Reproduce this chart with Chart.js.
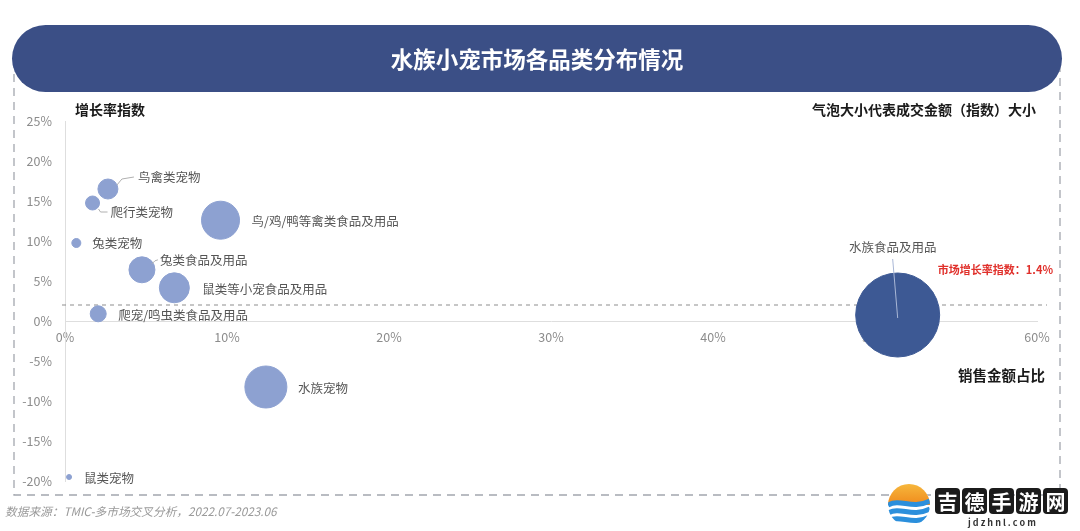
<!DOCTYPE html>
<html>
<head>
<meta charset="utf-8">
<script src="https://cdn.jsdelivr.net/npm/chart.js@4.4.1/dist/chart.umd.min.js"></script>
<style>
html,body{margin:0;padding:0;background:#ffffff;}
#wrap{position:relative;width:1080px;height:531px;overflow:hidden;}
canvas{display:block;}
</style>
</head>
<body>
<div id="wrap"><canvas id="c" width="1080" height="531"></canvas></div>
<script>
// ---------- data ----------
const categories = [
  '鸟禽类宠物',
  '爬行类宠物',
  '鸟/鸡/鸭等禽类食品及用品',
  '兔类宠物',
  '兔类食品及用品',
  '鼠类等小宠食品及用品',
  '爬宠/鸣虫类食品及用品',
  '水族宠物',
  '鼠类宠物',
  '水族食品及用品'
];
const salesShare  = [2.65, 1.7, 9.6, 0.7, 4.75, 6.75, 2.05, 12.4, 0.25, 51.4];   // 销售金额占比 (%)
const growthIndex = [16.5, 14.75, 12.6, 9.75, 6.4, 4.15, 0.9, -8.25, -19.5, 0.75]; // 增长率指数 (%)
const dealAmount  = [10, 7, 19, 4.5, 13, 15, 8, 21, 2.5, 42];                    // 成交金额（指数）→ bubble radius
const xTickValues = [0, 10, 20, 30, 40, 50, 60];
const yTickValues = [-20, -15, -10, -5, 0, 5, 10, 15, 20, 25];
const marketGrowthText = '市场增长率指数：1.4%';
const marketLineValue = 2.0;
const titleText = '水族小宠市场各品类分布情况';
const yAxisTitle = '增长率指数';
const xAxisTitle = '销售金额占比';
const bubbleNote = '气泡大小代表成交金额（指数）大小';
const sourceText = '数据来源：TMIC-多市场交叉分析，2022.07-2023.06';
const watermarkChars = ['吉','德','手','游','网'];
const watermarkUrl = 'j d z h n l . c o m';

const FONT = '"Noto Sans CJK SC","Noto Sans",sans-serif';
const LIGHT = '#8da1d1';
const DARK = '#3d5994';

const points = categories.map((c, i) => ({x: salesShare[i], y: growthIndex[i], r: dealAmount[i]}));
const colors = categories.map(c => c === '水族食品及用品' ? DARK : LIGHT);

// label placement (offsets from bubble centre, in px)
const labelStyle = {
  '鸟禽类宠物': {dx: 30, dy: -12, leader: [[9, -4], [14, -10], [26, -12]]},
  '爬行类宠物': {dx: 18, dy: 9, leader: [[6, 6], [8, 9], [15, 9]]},
  '鸟/鸡/鸭等禽类食品及用品': {dx: 31, dy: 1},
  '兔类宠物': {dx: 16, dy: 0},
  '兔类食品及用品': {dx: 18, dy: -10, leader: [[10, -6], [13, -9], [16, -10]]},
  '鼠类等小宠食品及用品': {dx: 28, dy: 1},
  '爬宠/鸣虫类食品及用品': {dx: 20, dy: 1},
  '水族宠物': {dx: 32, dy: 1},
  '鼠类宠物': {dx: 15, dy: 1},
  '水族食品及用品': {dx: -5, dy: -68, align: 'center', leader: [[-5, -56], [0, 3]], leaderColor: '#a9b7d6'}
};

const decorPlugin = {
  id: 'decor',
  beforeDraw(chart) {
    const ctx = chart.ctx;
    ctx.save();
    // dashed frame
    ctx.strokeStyle = '#a3a7ae';
    ctx.lineWidth = 1.3;
    ctx.setLineDash([8, 6]);
    ctx.beginPath();
    ctx.moveTo(14, 60); ctx.lineTo(14, 495); ctx.lineTo(1060, 495); ctx.lineTo(1060, 60);
    ctx.stroke();
    ctx.setLineDash([]);
    // title banner
    const x0 = 12, x1 = 1062, y0 = 25, y1 = 92, r = (y1 - y0) / 2;
    ctx.fillStyle = '#3b4f86';
    ctx.beginPath();
    ctx.moveTo(x0 + r, y0);
    ctx.lineTo(x1 - r, y0);
    ctx.arc(x1 - r, y0 + r, r, -Math.PI / 2, Math.PI / 2);
    ctx.lineTo(x0 + r, y1);
    ctx.arc(x0 + r, y0 + r, r, Math.PI / 2, Math.PI * 1.5);
    ctx.closePath();
    ctx.fill();
    ctx.fillStyle = '#ffffff';
    ctx.font = 'bold 22.5px ' + FONT;
    ctx.textAlign = 'center';
    ctx.textBaseline = 'middle';
    ctx.fillText(titleText, 537, 59);
    // axis titles
    ctx.fillStyle = '#1a1a1a';
    ctx.font = 'bold 14px ' + FONT;
    ctx.textAlign = 'left';
    ctx.fillText(yAxisTitle, 75, 110);
    ctx.textAlign = 'right';
    ctx.font = 'bold 14px ' + FONT;
    ctx.fillText(bubbleNote, 1036, 110);
    ctx.font = 'bold 14.5px ' + FONT;
    ctx.fillText(xAxisTitle, 1045, 375);
    // red market label
    ctx.fillStyle = '#e0302b';
    ctx.font = 'bold 11px ' + FONT;
    ctx.fillText(marketGrowthText, 1053, 270);
    // source
    ctx.fillStyle = '#9a9a9a';
    ctx.font = 'italic 11.7px ' + FONT;
    ctx.textAlign = 'left';
    ctx.fillText(sourceText, 5, 512);
    ctx.restore();
  },
  beforeDatasetsDraw(chart) {
    const ctx = chart.ctx, xs = chart.scales.x, ys = chart.scales.y;
    const y = ys.getPixelForValue(marketLineValue);
    ctx.save();
    ctx.strokeStyle = '#8e8e8e';
    ctx.lineWidth = 1;
    ctx.setLineDash([4, 4]);
    ctx.beginPath();
    ctx.moveTo(xs.left - 3, y);
    ctx.lineTo(xs.right + 10, y);
    ctx.stroke();
    ctx.restore();
  },
  afterDatasetsDraw(chart) {
    const ctx = chart.ctx;
    const meta = chart.getDatasetMeta(0);
    ctx.save();
    ctx.font = '12.5px ' + FONT;
    ctx.textBaseline = 'middle';
    meta.data.forEach((el, i) => {
      const name = categories[i];
      const st = labelStyle[name];
      const cx = el.x, cy = el.y;
      if (st.leader) {
        ctx.strokeStyle = st.leaderColor || '#b0b0b0';
        ctx.lineWidth = 1;
        ctx.beginPath();
        st.leader.forEach((p, k) => {
          if (k === 0) ctx.moveTo(cx + p[0], cy + p[1]); else ctx.lineTo(cx + p[0], cy + p[1]);
        });
        ctx.stroke();
      }
      ctx.fillStyle = '#555555';
      ctx.textAlign = st.align || 'left';
      ctx.fillText(name, cx + st.dx, cy + st.dy);
    });
    ctx.restore();
  },
  afterDraw(chart) {
    const ctx = chart.ctx;
    ctx.save();
    // logo
    const lx = 909, ly = 505, lr = 21;
    ctx.beginPath();
    ctx.arc(lx, ly, lr, 0, Math.PI * 2);
    ctx.fillStyle = '#ffffff';
    ctx.fill();
    ctx.save();
    ctx.beginPath();
    ctx.arc(lx, ly, lr, 0, Math.PI * 2);
    ctx.clip();
    const g = ctx.createLinearGradient(0, ly - lr, 0, ly);
    g.addColorStop(0, '#f6b73c');
    g.addColorStop(1, '#f08a1c');
    ctx.fillStyle = g;
    ctx.fillRect(lx - lr, ly - lr, lr * 2, lr);
    ctx.strokeStyle = '#2b8fdc';
    ctx.lineWidth = 5;
    for (let k = 0; k < 3; k++) {
      const yy = ly - 2 + k * 8;
      ctx.beginPath();
      ctx.moveTo(lx - lr, yy + 2);
      ctx.bezierCurveTo(lx - 8, yy - 5, lx + 2, yy + 7, lx + lr, yy - 2);
      ctx.stroke();
    }
    ctx.restore();
    // boxed characters
    ctx.font = 'bold 20px ' + FONT;
    ctx.textAlign = 'center';
    ctx.textBaseline = 'middle';
    watermarkChars.forEach((ch, k) => {
      const bx = 935 + k * 27, by = 488, bw = 25, bh = 26, br = 4;
      ctx.fillStyle = '#1b1b1b';
      ctx.beginPath();
      ctx.moveTo(bx + br, by);
      ctx.arcTo(bx + bw, by, bx + bw, by + bh, br);
      ctx.arcTo(bx + bw, by + bh, bx, by + bh, br);
      ctx.arcTo(bx, by + bh, bx, by, br);
      ctx.arcTo(bx, by, bx + bw, by, br);
      ctx.closePath();
      ctx.fill();
      ctx.fillStyle = '#ffffff';
      ctx.fillText(ch, bx + bw / 2, by + bh / 2 + 1);
    });
    ctx.fillStyle = '#333333';
    ctx.font = 'bold 9px ' + FONT;
    ctx.fillText(watermarkUrl, 1002, 523);
    ctx.restore();
  }
};

const tickFont = {family: FONT, size: 12.5};

new Chart(document.getElementById('c'), {
  type: 'bubble',
  data: {
    datasets: [{
      data: points,
      backgroundColor: colors,
      borderColor: colors,
      borderWidth: 1,
      hoverRadius: 0
    }]
  },
  options: {
    responsive: false,
    animation: false,
    devicePixelRatio: 1,
    layout: {padding: {top: 121, bottom: 50, left: 0, right: 43}},
    plugins: {legend: {display: false}, tooltip: {enabled: false}},
    scales: {
      x: {
        type: 'linear',
        min: 0, max: 60,
        position: {y: 0},
        afterBuildTicks(s) { s.ticks = xTickValues.map(v => ({value: v})); },
        afterFit(s) { s.height = 0; },
        ticks: {color: '#8c8c8c', font: tickFont, padding: 9, maxRotation: 0, callback: v => v + '%'},
        grid: {display: false, drawTicks: false},
        border: {color: '#dedede', width: 1}
      },
      y: {
        type: 'linear',
        min: -20, max: 25,
        afterBuildTicks(s) { s.ticks = yTickValues.map(v => ({value: v})); },
        afterFit(s) { s.width = 65; },
        ticks: {color: '#8c8c8c', font: tickFont, padding: 13, callback: v => v + '%'},
        grid: {display: false, drawTicks: false},
        border: {color: '#dedede', width: 1}
      }
    }
  },
  plugins: [decorPlugin]
});
</script>
</body>
</html>
